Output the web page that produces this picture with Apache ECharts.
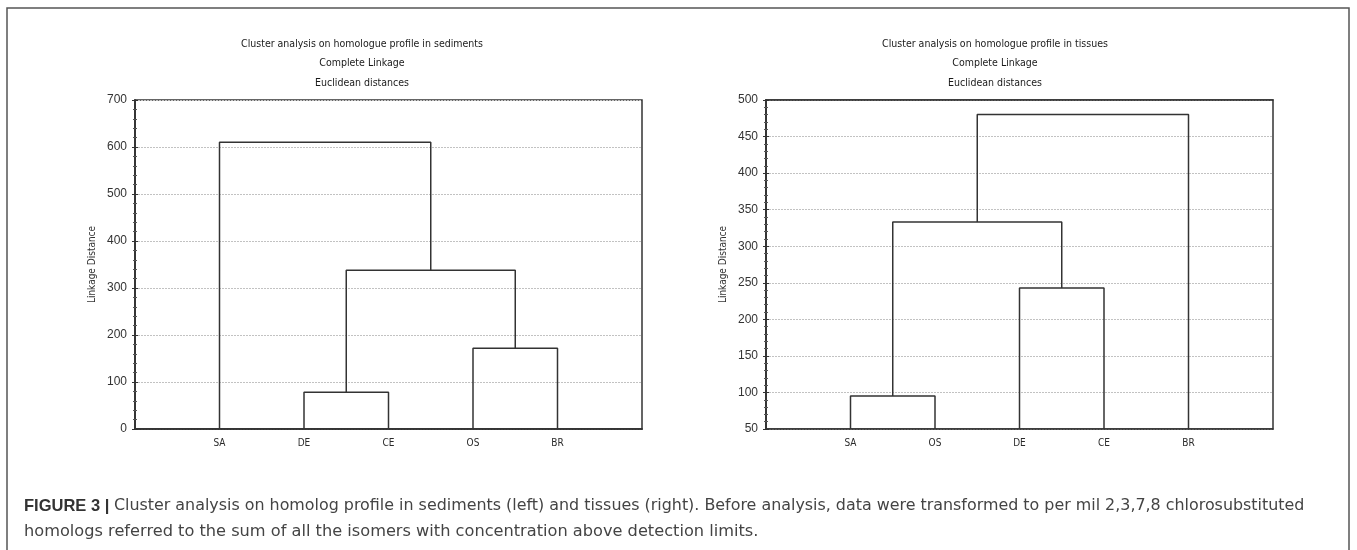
<!DOCTYPE html>
<html>
<head>
<meta charset="utf-8">
<script src="https://cdn.jsdelivr.net/npm/echarts@6/dist/echarts.min.js"></script>
<style>
html,body{margin:0;padding:0;background:#fff;}
#chart{width:1357px;height:550px;}
</style>
</head>
<body>
<div id="chart"></div>
<script>
// ---- Data ----
const leftTitle = ['Cluster analysis on homologue profile in sediments', 'Complete Linkage', 'Euclidean distances'];
const rightTitle = ['Cluster analysis on homologue profile in tissues', 'Complete Linkage', 'Euclidean distances'];
const leftLeaves = ['SA', 'DE', 'CE', 'OS', 'BR'];
const leftMergePairs = [[1, 2], [3, 4], [5, 6], [0, 7]];
const leftMergeHeights = [78, 172, 338, 610];
const rightLeaves = ['SA', 'OS', 'DE', 'CE', 'BR'];
const rightMergePairs = [[0, 1], [2, 3], [5, 6], [7, 4]];
const rightMergeHeights = [95, 243, 333, 480];
const leftYTicks = {min: 0, max: 700, interval: 100};
const rightYTicks = {min: 50, max: 500, interval: 50};
const yAxisName = 'Linkage Distance';
const captionBold = 'FIGURE 3 | ';
const captionLine1 = 'Cluster analysis on homolog profile in sediments (left) and tissues (right). Before analysis, data were transformed to per mil 2,3,7,8 chlorosubstituted';
const captionLine2 = 'homologs referred to the sum of all the isomers with concentration above detection limits.';

// ---- Build dendrogram segments ----
function buildSegments(leaves, pairs, heights, base) {
  const n = leaves.length;
  const pos = [], hgt = [];
  for (let i = 0; i < n; i++) { pos.push(i + 1); hgt.push(base); }
  const segs = [];
  pairs.forEach((p, k) => {
    const a = p[0], b = p[1], h = heights[k];
    segs.push([[pos[a], hgt[a]], [pos[a], h], [pos[b], h], [pos[b], hgt[b]]]);
    pos.push((pos[a] + pos[b]) / 2);
    hgt.push(h);
  });
  return segs;
}

const FONT = "'Liberation Sans Narrow', 'DejaVu Sans Condensed', sans-serif";
const CAPFONT = "'DejaVu Sans', sans-serif";
const grids = [
  {left: 135, top: 100, width: 507, height: 329},
  {left: 766, top: 100, width: 507, height: 329}
];

function xAxisFor(gi, leaves) {
  return {
    type: 'value', gridIndex: gi, min: 0, max: 6, interval: 1,
    axisLine: {show: true, lineStyle: {color: '#333', width: 1.5}},
    axisTick: {show: false},
    splitLine: {show: false},
    axisLabel: {
      margin: 9, fontFamily: FONT, fontSize: 10, color: '#2a2a2a',
      formatter: v => leaves[v - 1] || ''
    }
  };
}
function yAxesFor(gi, t) {
  return [{
    type: 'value', gridIndex: gi, min: t.min, max: t.max, interval: t.interval,
    name: yAxisName, nameLocation: 'middle', nameRotate: 90, nameGap: 38,
    nameTextStyle: {fontFamily: FONT, fontSize: 10, color: '#333'},
    axisLine: {show: true, lineStyle: {color: '#333', width: 1.5}},
    axisTick: {show: true, inside: true, length: 3, lineStyle: {color: '#333'}},
    minorTick: {show: true, splitNumber: 5, length: 2, lineStyle: {color: '#555'}},
    axisLabel: {margin: 8, fontFamily: 'Liberation Sans, Arial, sans-serif', fontSize: 12, color: '#333'},
    splitLine: {show: true, lineStyle: {color: '#c2c2c2', type: [2, 1], width: 1}}
  }, {
    type: 'value', gridIndex: gi, position: 'right', min: t.min, max: t.max, interval: t.interval,
    axisLine: {show: true, lineStyle: {color: '#333', width: 1.5}},
    axisTick: {show: true, inside: true, length: 3, lineStyle: {color: '#333'}},
    minorTick: {show: true, splitNumber: 5, length: 2, lineStyle: {color: '#555'}},
    axisLabel: {show: false},
    splitLine: {show: false}
  }];
}

const series = [];
function addSeries(segs, xi, yi) {
  segs.forEach(s => {
    series.push({
      type: 'line', xAxisIndex: xi, yAxisIndex: yi, data: s,
      showSymbol: false, symbol: 'none', silent: true, animation: false,
      lineStyle: {color: '#333', width: 1.5}
    });
  });
}
addSeries(buildSegments(leftLeaves, leftMergePairs, leftMergeHeights, leftYTicks.min), 0, 0);
addSeries(buildSegments(rightLeaves, rightMergePairs, rightMergeHeights, rightYTicks.min), 1, 2);

function titleTexts(lines, cx) {
  const ys = [44, 63, 83];
  return lines.map((l, i) => ({
    type: 'text', x: cx, y: ys[i],
    style: {text: l, fontFamily: FONT, fontSize: 10.5, fill: '#1a1a1a', align: 'center', verticalAlign: 'middle'}
  }));
}

const chart = echarts.init(document.getElementById('chart'), null, {renderer: 'canvas'});
chart.setOption({
  animation: false,
  grid: grids.map(g => Object.assign({show: true, borderColor: '#333', borderWidth: 1.5, backgroundColor: 'transparent'}, g)),
  xAxis: [xAxisFor(0, leftLeaves), xAxisFor(1, rightLeaves),
          {type: 'value', gridIndex: 0, position: 'top', min: 0, max: 6, show: true, axisLine: {lineStyle: {color: '#333', width: 1.5}}, axisTick: {show: false}, axisLabel: {show: false}, splitLine: {show: false}},
          {type: 'value', gridIndex: 1, position: 'top', min: 0, max: 6, show: true, axisLine: {lineStyle: {color: '#333', width: 1.5}}, axisTick: {show: false}, axisLabel: {show: false}, splitLine: {show: false}}],
  yAxis: yAxesFor(0, leftYTicks).concat(yAxesFor(1, rightYTicks)),
  series: series,
  graphic: [
    {type: 'rect', shape: {x: 7, y: 8, width: 1342, height: 560}, style: {fill: 'none', stroke: '#555', lineWidth: 1.5}, silent: true},
    ...titleTexts(leftTitle, 362),
    ...titleTexts(rightTitle, 995),
    {type: 'text', x: 24, y: 506, style: {
      text: '{b|' + captionBold + '}{r|' + captionLine1 + '}',
      verticalAlign: 'middle',
      rich: {
        b: {fontFamily: "'Liberation Sans', Arial, sans-serif", fontSize: 16.5, fontWeight: 'bold', fill: '#333'},
        r: {fontFamily: CAPFONT, fontSize: 15.9, fill: '#444'}
      }
    }},
    {type: 'text', x: 24, y: 532, style: {
      text: captionLine2, verticalAlign: 'middle',
      fontFamily: CAPFONT, fontSize: 16.2, fill: '#444'
    }}
  ]
});
</script>
</body>
</html>
